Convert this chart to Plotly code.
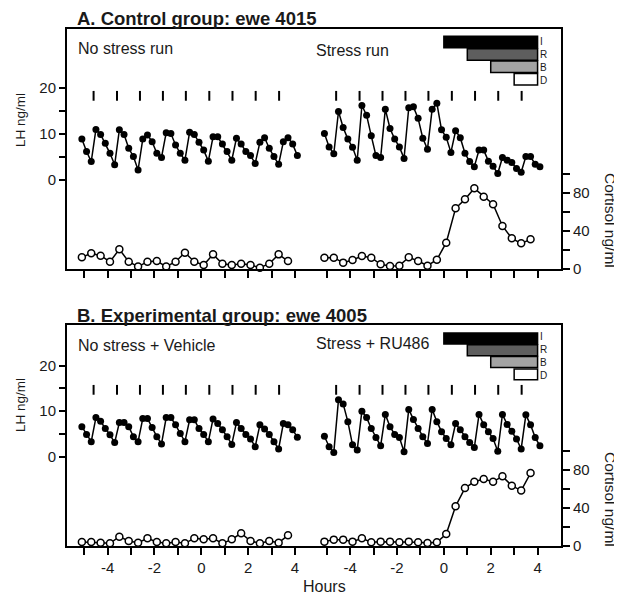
import plotly.graph_objects as go

# ---------------- data ----------------
LH_START_H = -5.1      # first blood sample (hours)
LH_STEP_H = 0.2        # LH sampled every 12 min
CORT_STEP_H = 0.4      # cortisol sampled every 24 min
lh_times = [round(LH_START_H + LH_STEP_H * i, 2) for i in range(47)]
cort_times = [round(LH_START_H + CORT_STEP_H * i, 2) for i in range(23)]

# LH pulse markers (hours)
pulse_times = [-4.6, -3.6, -2.62, -1.64, -0.66, 0.34, 1.33, 2.32, 3.32]

# Panel A: control ewe 4015
lh_a_nostress = [8.9, 6.2, 4.0, 11.0, 9.9, 8.0, 5.8, 3.3, 10.9, 9.9,
                 6.9, 5.1, 2.2, 8.9, 9.8, 8.3, 5.8, 4.9, 10.3, 10.1,
                 7.6, 5.8, 4.3, 10.4, 9.9, 8.2, 6.5, 4.1, 9.4, 9.4,
                 7.8, 6.2, 4.3, 9.1, 7.8, 6.2, 5.3, 3.6, 8.2, 9.2,
                 6.9, 5.1, 3.4, 8.3, 9.2, 7.8, 5.3]
lh_a_stress = [10.1, 7.2, 5.7, 14.9, 11.4, 8.9, 7.1, 4.3, 16.2, 14.1,
               9.6, 5.3, 4.9, 15.4, 11.2, 8.9, 7.2, 4.7, 15.7, 15.9,
               13.4, 9.1, 6.7, 15.4, 16.7, 10.9, 9.3, 6.0, 10.7, 9.2,
               5.8, 4.0, 2.9, 6.5, 6.5, 4.1, 3.0, 1.4, 4.9, 4.3,
               3.8, 2.5, 1.7, 5.1, 5.1, 3.4, 2.9]
cort_a_nostress = [12.3, 16.5, 14.0, 7.7, 20.7, 7.7, 2.5, 7.7, 8.4, 2.5, 7.7, 17.2,
                   7.7, 4.2, 15.4, 5.6, 4.2, 5.6, 4.2, 1.4, 5.6, 15.4, 8.4]
cort_a_stress = [11.9, 11.9, 6.7, 9.5, 13.7, 11.9, 4.9, 3.2, 3.5, 12.3, 8.4, 3.5,
                 9.8, 27.7, 63.9, 73.3, 84.9, 76.1, 68.1, 45.3, 32.3, 27.0, 31.2]

# Panel B: experimental ewe 4005
lh_b_vehicle = [6.6, 4.9, 3.3, 8.6, 7.8, 6.2, 4.8, 3.1, 7.5, 7.5,
                6.6, 4.4, 3.3, 8.4, 8.4, 6.4, 4.4, 2.8, 8.6, 8.6,
                7.0, 5.1, 3.3, 8.1, 8.1, 6.2, 4.9, 3.3, 8.3, 7.3,
                5.9, 4.4, 2.7, 7.5, 6.2, 4.9, 3.9, 2.2, 7.0, 6.1,
                4.9, 3.3, 1.7, 7.3, 7.0, 5.9, 4.3]
lh_b_ru486 = [4.5, 2.2, 0.9, 12.5, 11.6, 7.7, 2.6, 1.5, 10.0, 8.6,
              6.2, 4.2, 2.4, 9.3, 6.6, 4.9, 4.2, 1.1, 10.4, 8.2,
              6.2, 4.4, 2.9, 10.4, 7.7, 5.5, 4.0, 2.6, 7.3, 5.9,
              4.4, 3.1, 2.0, 9.3, 7.0, 5.5, 4.0, 1.2, 9.3, 7.1,
              5.6, 3.9, 1.7, 9.2, 7.0, 4.2, 2.4]
cort_b_vehicle = [4.2, 4.2, 3.5, 2.8, 9.8, 5.3, 3.5, 8.1, 4.2, 2.8, 4.2, 2.8,
                  8.1, 7.0, 8.1, 2.8, 7.0, 13.4, 5.3, 2.8, 5.3, 3.5, 11.2]
cort_b_ru486 = [4.6, 6.7, 6.7, 4.6, 8.1, 3.9, 4.6, 4.6, 3.9, 4.6, 3.9, 3.2,
                3.9, 12.6, 41.8, 61.0, 67.7, 70.5, 67.7, 73.3, 63.5, 58.3, 76.8]

# Stress protocol (hours): Isolation, Restraint, Blindfold, Dog
stress_labels = ["I", "R", "B", "D"]
stress_start = [0, 1, 2, 3]
stress_end = [4, 4, 4, 4]
stress_colors = ["#000000", "#5e5e5e", "#a3a3a3", "#ffffff"]

hour_ticks = [-5, -4, -3, -2, -1, 0, 1, 2, 3, 4]
hour_labels = ["", "-4", "", "-2", "", "0", "", "2", "", "4"]
lh_ticks = [0, 5, 10, 15, 20]
lh_labels = ["0", "", "10", "", "20"]
cort_ticks = [0, 20, 40, 60, 80, 100]
cort_labels = ["0", "", "40", "", "80", ""]

# ---------------- layout constants ----------------
OFFSET = 10.355          # horizontal shift of second run on the shared axis
XRANGE = [-5.735, 15.355]
FONT = "Liberation Sans, Arial, sans-serif"
INK = "#1a1a1a"
PAGE = 8                 # default body margin of the html page
W, H = 622 - PAGE, 595 - PAGE
# plot area in page pixels: x 67..561, y 29..546
ML, MR, MT, MB = 67 - PAGE, 622 - 561, 29 - PAGE, 595 - 546
PW, PH = W - ML - MR, H - MT - MB


def px_x(px):
    return (px - PAGE - ML) / PW


def px_y(py):
    return (H - MB - (py - PAGE)) / PH


fig = go.Figure()


def add_run(xa, ylh, yc, lh, cort, off):
    fig.add_trace(go.Scatter(
        x=[t + off for t in lh_times], y=lh, xaxis=xa, yaxis=ylh,
        mode="lines+markers", line=dict(color="black", width=1.5),
        marker=dict(symbol="circle", size=7, color="black"),
        showlegend=False, hoverinfo="skip", cliponaxis=False))
    fig.add_trace(go.Scatter(
        x=[t + off for t in cort_times], y=cort, xaxis=xa, yaxis=yc,
        mode="lines+markers", line=dict(color="black", width=1.5),
        marker=dict(symbol="circle", size=7, color="white",
                    line=dict(color="black", width=1.5)),
        showlegend=False, hoverinfo="skip", cliponaxis=False))


def add_pulses(xa, ylh, level):
    xs = [t for t in pulse_times] + [t + OFFSET for t in pulse_times]
    fig.add_trace(go.Scatter(
        x=xs, y=[level] * len(xs), xaxis=xa, yaxis=ylh, mode="markers",
        marker=dict(symbol="line-ns", size=7, line=dict(color="black", width=2)),
        showlegend=False, hoverinfo="skip"))


def add_stress_bars(xa, ylh, centers, width):
    fig.add_trace(go.Bar(
        orientation="h", base=[s + OFFSET for s in stress_start],
        x=[e - s for s, e in zip(stress_start, stress_end)], y=centers,
        width=width, xaxis=xa, yaxis=ylh,
        marker=dict(color=stress_colors, line=dict(color="black", width=1.5)),
        showlegend=False, hoverinfo="skip"))
    # stacked letter labels as one text block
    fig.add_annotation(x=max(stress_end) + OFFSET + 0.08, y=sum(centers) / len(centers),
                       xref=xa, yref=ylh, text="<br>".join(stress_labels),
                       showarrow=False, xanchor="left", yanchor="middle", align="left",
                       borderpad=0, font=dict(family=FONT, size=10, color=INK))


# Panel A (top)
add_run("x2", "y3", "y4", lh_a_nostress, cort_a_nostress, 0)
add_run("x2", "y3", "y4", lh_a_stress, cort_a_stress, OFFSET)
add_pulses("x2", "y3", 18.3)
add_stress_bars("x2", "y3", [30.0, 27.3, 24.6, 21.9], 2.5)

# Panel B (bottom)
add_run("x", "y", "y2", lh_b_vehicle, cort_b_vehicle, 0)
add_run("x", "y", "y2", lh_b_ru486, cort_b_ru486, OFFSET)
add_pulses("x", "y", 14.7)
add_stress_bars("x", "y", [26.0, 23.4, 20.8, 18.1], 2.4)

xticks = hour_ticks + [h + OFFSET for h in hour_ticks]
xtext = hour_labels + hour_labels

axis_common = dict(showgrid=False, zeroline=False, linecolor="black", linewidth=2,
                   ticks="outside", tickcolor="black", tickwidth=1.5,
                   tickfont=dict(family=FONT, size=15, color=INK))

A_DOM = [px_y(269), 1]
B_DOM = [0, px_y(325)]

fig.update_layout(
    width=W, height=H, margin=dict(l=ML, r=MR, t=MT, b=MB),
    paper_bgcolor="white", plot_bgcolor="white", barmode="overlay",
    font=dict(family=FONT, color=INK),
    xaxis=dict(axis_common, domain=[0, 1], anchor="y", range=XRANGE,
               tickmode="array", tickvals=xticks, ticktext=xtext, ticklen=7,
               showline=True, mirror=True),
    xaxis2=dict(axis_common, domain=[0, 1], anchor="y3", range=XRANGE,
                tickmode="array", tickvals=xticks, ticktext=xtext, ticklen=7,
                showticklabels=False, showline=True, mirror=True),
    yaxis=dict(axis_common, domain=B_DOM, anchor="x", range=[-19.63, 28.95],
               tickmode="array", tickvals=lh_ticks, ticktext=lh_labels, ticklen=6,
               showline=True, mirror=True),
    yaxis2=dict(axis_common, overlaying="y", side="right", anchor="x",
                range=[0, 232.6], tickmode="array", tickvals=cort_ticks,
                ticktext=cort_labels, ticklen=8, showline=False),
    yaxis3=dict(axis_common, domain=A_DOM, anchor="x2", range=[-19.35, 32.83],
                tickmode="array", tickvals=lh_ticks, ticktext=lh_labels, ticklen=6,
                showline=True, mirror=True),
    yaxis4=dict(axis_common, overlaying="y3", side="right", anchor="x2",
                range=[0, 252.6], tickmode="array", tickvals=cort_ticks,
                ticktext=cort_labels, ticklen=8, showline=False),
)


def note(text, px, py, size, anchor="left", angle=0):
    fig.add_annotation(text=text, xref="paper", yref="paper", x=px_x(px), y=px_y(py),
                       showarrow=False, xanchor=anchor, yanchor="middle", textangle=angle,
                       font=dict(family=FONT, size=size, color=INK))


note("<b>A. Control group: ewe 4015</b>", 75, 18.5, 18.5)
note("No stress run", 76, 49, 16)
note("Stress run", 314, 50, 16)
note("<b>B. Experimental group: ewe 4005</b>", 75, 315, 18.5)
note("No stress + Vehicle", 76, 345, 16)
note("Stress + RU486", 314, 344, 16)
note("LH ng/ml", 20, 120, 13.5, anchor="center", angle=-90)
note("LH ng/ml", 20, 405, 13.5, anchor="center", angle=-90)
note("Cortisol ng/ml", 611, 220, 15.5, anchor="center", angle=90)
note("Cortisol ng/ml", 611, 499, 15.5, anchor="center", angle=90)
note("Hours", 324, 587, 16, anchor="center")

fig.write_html("out.html")
